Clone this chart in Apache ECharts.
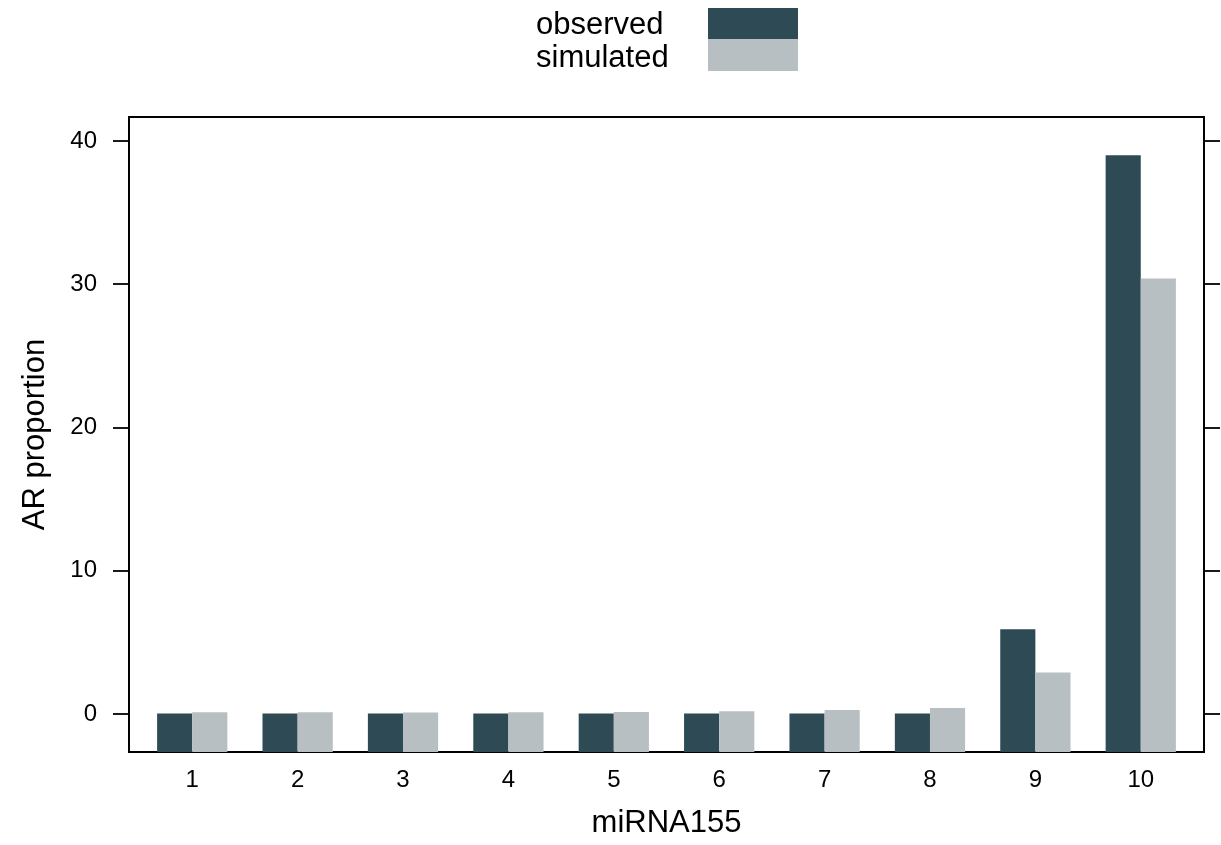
<!DOCTYPE html>
<html>
<head>
<meta charset="utf-8">
<script src="https://cdn.jsdelivr.net/npm/echarts@6/dist/echarts.min.js"></script>
<style>
html,body{margin:0;padding:0;background:#fff;}
#chart{width:1221px;height:845px;}
</style>
</head>
<body>
<div id="chart"></div>
<script>
var categories = ['1','2','3','4','5','6','7','8','9','10'];
var observed = [0.03,0.03,0.03,0.03,0.03,0.03,0.03,0.03,5.92,39.0];
var simulated = [0.13,0.12,0.11,0.13,0.14,0.2,0.28,0.42,2.9,30.4];
var yTicks = [0,10,20,30,40];
var seriesNames = ['observed','simulated'];
var colors = ['#2e4a54','#b8bfc2'];
var yMin = -2.65, yMax = 41.67;
var xMin = 0.4, xMax = 10.6;
var xPositions = categories.map(function(c,i){return i+1;});

var chart = echarts.init(document.getElementById('chart'));

function makeRender(idx){
  return function(params, api){
    var xi = api.value(0);
    var v = api.value(1);
    var band = api.size([1,0])[0];
    var w = band/3;
    var top = api.coord([xi, v]);
    var base = api.coord([xi, yMin]);
    var x = top[0] + (idx === 0 ? -w : 0);
    return {
      type:'rect',
      shape:{x:x, y:top[1], width:w, height:base[1]-top[1]},
      style:{fill:colors[idx]}
    };
  };
}

var font = 'Liberation Sans, Arial, sans-serif';
var lw = 1.8;

chart.setOption({
  animation:false,
  grid:{left:129, right:17, top:117, bottom:93, show:true, borderColor:'#000', borderWidth:lw, backgroundColor:'transparent'},
  xAxis:{
    type:'value', min:xMin, max:xMax,
    name:'miRNA155', nameLocation:'middle', nameGap:56,
    nameTextStyle:{fontSize:31, color:'#000', fontFamily:font},
    axisLine:{show:true, onZero:false, lineStyle:{color:'#000', width:lw}},
    axisTick:{show:false},
    axisLabel:{show:true, customValues:xPositions, fontSize:24, color:'#000', fontFamily:font, margin:16,
      formatter:function(v){return categories[Math.round(v)-1];}},
    splitLine:{show:false}
  },
  yAxis:[{
    type:'value', min:yMin, max:yMax, position:'left',
    name:'AR proportion', nameLocation:'middle', nameGap:78,
    nameTextStyle:{fontSize:31, color:'#000', fontFamily:font},
    axisLine:{show:true, onZero:false, lineStyle:{color:'#000', width:lw}},
    axisTick:{show:true, inside:false, length:16, customValues:yTicks, lineStyle:{color:'#000', width:lw}},
    axisLabel:{show:true, customValues:yTicks, fontSize:24, color:'#000', fontFamily:font, margin:32},
    splitLine:{show:false}
  },{
    type:'value', min:yMin, max:yMax, position:'right',
    axisLine:{show:true, onZero:false, lineStyle:{color:'#000', width:lw}},
    axisTick:{show:true, inside:false, length:16, customValues:yTicks, lineStyle:{color:'#000', width:lw}},
    axisLabel:{show:false},
    splitLine:{show:false}
  }],
  graphic:[
    {type:'text', left:536, top:10, style:{text:'observed', fontSize:31, fill:'#000', fontFamily:font}},
    {type:'text', left:536, top:43, style:{text:'simulated', fontSize:31, fill:'#000', fontFamily:font}},
    {type:'rect', left:708, top:8, shape:{width:90, height:31}, style:{fill:colors[0]}},
    {type:'rect', left:708, top:39, shape:{width:90, height:32}, style:{fill:colors[1]}}
  ],
  series:[
    {type:'custom', name:seriesNames[0], renderItem:makeRender(0), clip:true,
     data:observed.map(function(v,i){return [xPositions[i],v];}), encode:{x:0,y:1}},
    {type:'custom', name:seriesNames[1], renderItem:makeRender(1), clip:true,
     data:simulated.map(function(v,i){return [xPositions[i],v];}), encode:{x:0,y:1}}
  ]
});
</script>
</body>
</html>
